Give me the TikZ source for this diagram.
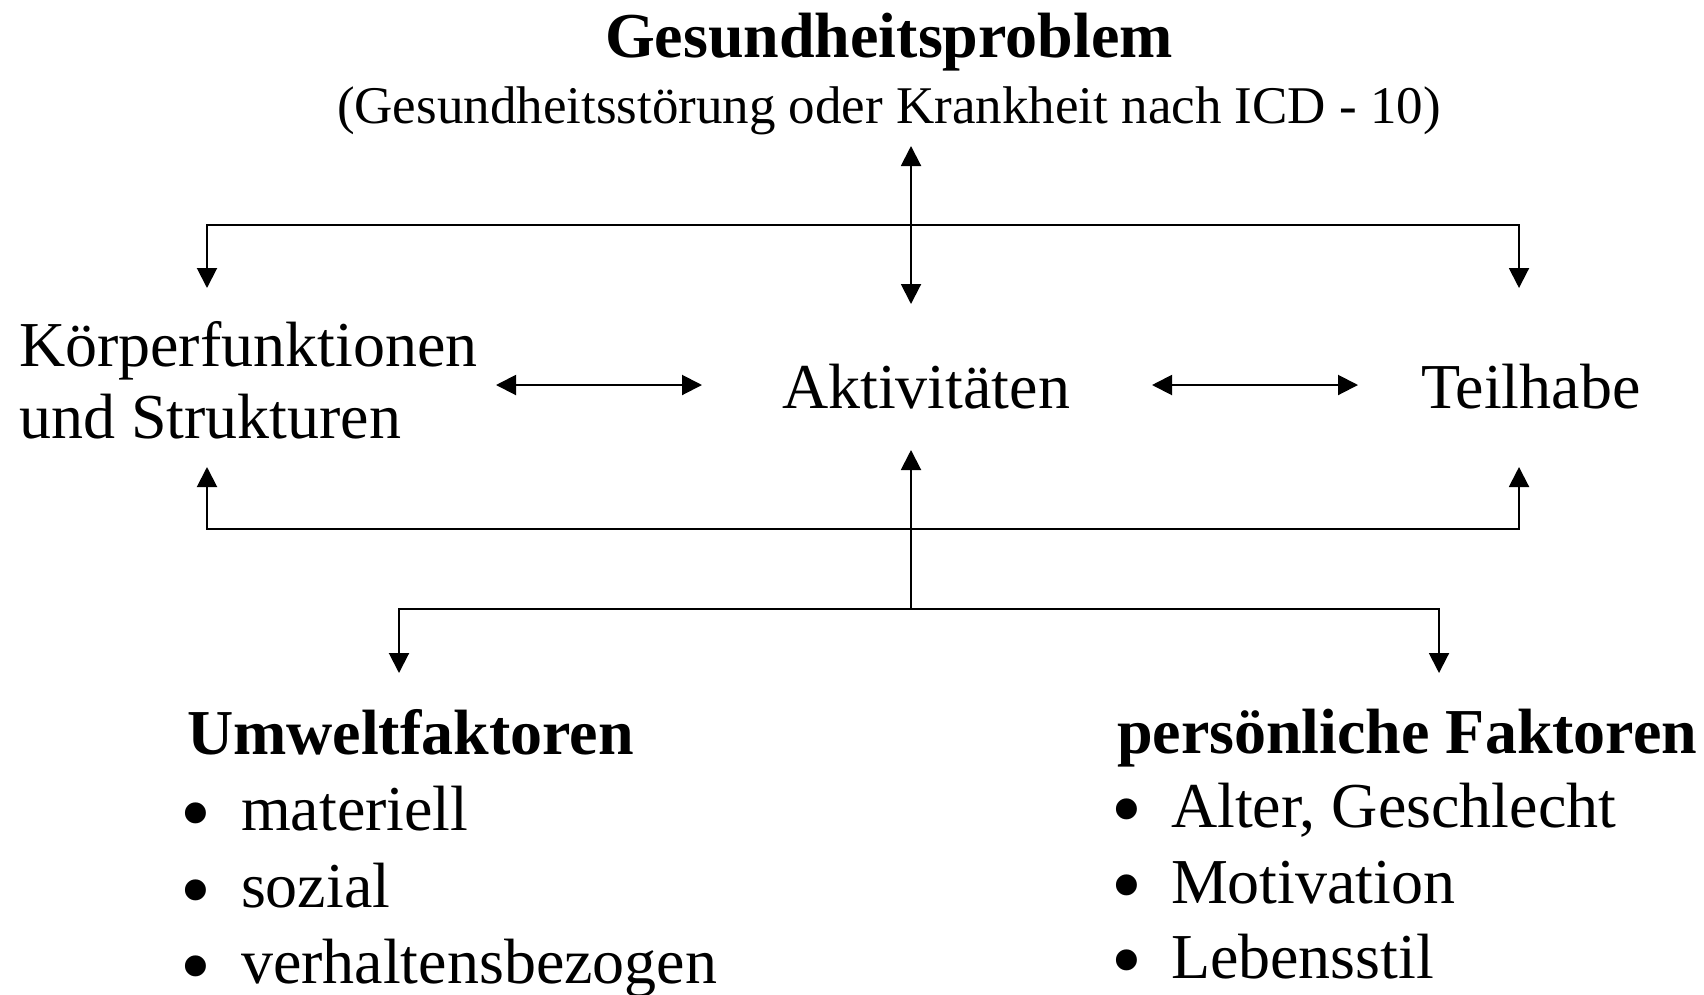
\documentclass[tikz,border=0pt]{standalone}
\usepackage{fontspec}
\setmainfont{Liberation Serif}
\usetikzlibrary{arrows.meta}
\begin{document}
\begin{tikzpicture}[x=1pt,y=-1pt,
  conn/.style={line width=2pt,line join=miter},
  tipa/.tip={Triangle[length=20pt,width=20pt]},
  arr/.style={conn,-tipa},
  darr/.style={conn,tipa-tipa},
  lbl/.style={inner sep=0pt,outer sep=0pt,font=\fontsize{64}{72}\selectfont},
  head/.style={lbl,font=\fontsize{64}{72}\selectfont\bfseries},
  subl/.style={inner sep=0pt,outer sep=0pt,font=\fontsize{53}{60}\selectfont},
  bul/.style={inner sep=0pt,outer sep=0pt,anchor=center,font=\fontsize{88}{90}\selectfont}]
\useasboundingbox (0,0) rectangle (1704,994);
% texts
\node[head,anchor=base] (title) at (889,57) {Gesundheitsproblem};
\node[subl,anchor=base] (sub) at (889,123) {(Gesundheitsstörung oder Krankheit nach ICD - 10)};
\node[lbl,anchor=base west] (kf1) at (19,366) {Körperfunktionen};
\node[lbl,anchor=base west] (kf2) at (19,438) {und Strukturen};
\node[lbl,anchor=base west] (akt) at (782,408) {Aktivitäten};
\node[lbl,anchor=base west] (teil) at (1421,408) {Teilhabe};
\node[head,anchor=base west] (umw) at (187,754) {Umweltfaktoren};
\node[bul] (ub1) at (196,823) {•};
\node[bul] (ub2) at (196,900) {•};
\node[bul] (ub3) at (196,976) {•};
\node[lbl,anchor=base west] (u1) at (241,830) {materiell};
\node[lbl,anchor=base west] (u2) at (241,907) {sozial};
\node[lbl,anchor=base west] (u3) at (241,983) {verhaltensbezogen};
\node[head,anchor=base west] (pers) at (1117,753) {persönliche Faktoren};
\node[bul] (pb1) at (1127,819) {•};
\node[bul] (pb2) at (1127,895) {•};
\node[bul] (pb3) at (1127,970) {•};
\node[lbl,anchor=base west] (p1) at (1171,827) {Alter, Geschlecht};
\node[lbl,anchor=base west] (p2) at (1171,903) {Motivation};
\node[lbl,anchor=base west] (p3) at (1171,978) {Lebensstil};
% connector end points
\coordinate (cTop) at (911,146);
\coordinate (cAktTop) at (911,304);
\coordinate (kfTop) at (207,288);
\coordinate (teilTop) at (1519,288);
\coordinate (jTopL) at (207,225);
\coordinate (jTopR) at (1519,225);
\coordinate (kfBot) at (207,467);
\coordinate (teilBot) at (1519,467);
\coordinate (jMidL) at (207,529);
\coordinate (jMidR) at (1519,529);
\coordinate (aktBot) at (911,450);
\coordinate (jLow) at (911,609);
\coordinate (jLowL) at (399,609);
\coordinate (jLowR) at (1439,609);
\coordinate (umwTop) at (399,673);
\coordinate (persTop) at (1439,673);
\coordinate (kfR) at (496,385);
\coordinate (aktL) at (702,385);
\coordinate (aktR) at (1152,385);
\coordinate (teilL) at (1358,385);
% connectors
\draw[darr] (cTop) -- (cAktTop);
\draw[darr] (kfTop) -- (jTopL) -- (jTopR) -- (teilTop);
\draw[darr] (kfR) -- (aktL);
\draw[darr] (aktR) -- (teilL);
\draw[darr] (kfBot) -- (jMidL) -- (jMidR) -- (teilBot);
\draw[arr] (jLow) -- (aktBot);
\draw[darr] (umwTop) -- (jLowL) -- (jLowR) -- (persTop);
\end{tikzpicture}
\end{document}
